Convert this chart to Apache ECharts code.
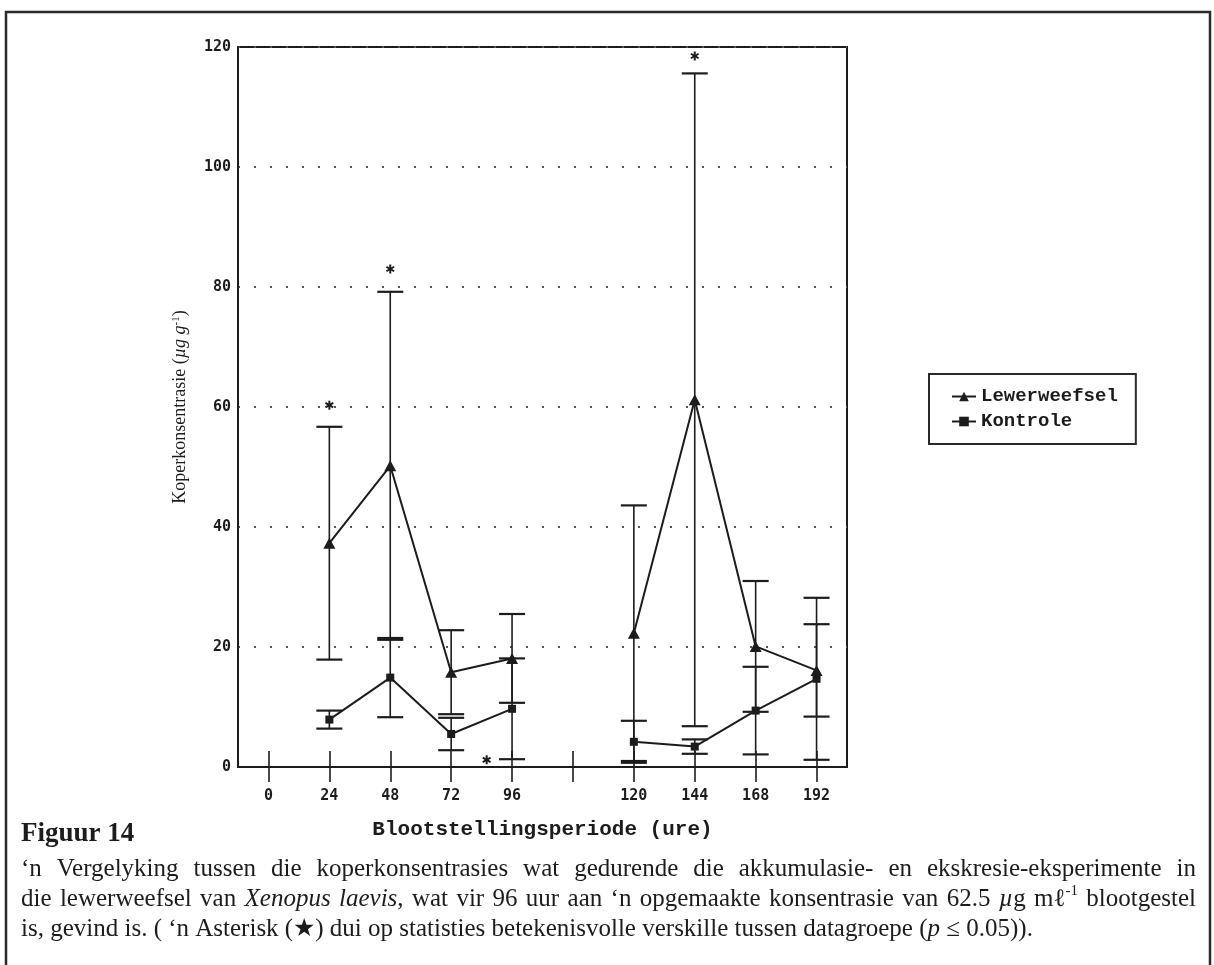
<!DOCTYPE html>
<html>
<head>
<meta charset="utf-8">
<script src="https://cdn.jsdelivr.net/npm/echarts@6/dist/echarts.min.js"></script>
<style>
  html, body { margin: 0; padding: 0; background: #ffffff; }
  #chart { width: 1214px; height: 965px; }
</style>
</head>
<body>
<div id="chart"></div>
<script>
// Exposure period categories (hours); the empty slot separates accumulation from excretion
const categories = ['0', '24', '48', '72', '96', '', '120', '144', '168', '192'];

// Copper concentration in liver tissue (µg/g): mean and error
const liverMean = [null, 37.3, 50.2, 15.8, 18.1, null, 22.3, 61.2, 20.1, 16.1];
const liverErr  = [null, 19.4, 29.0, 7.0, 7.4, null, 21.3, 54.4, 10.9, 7.7];

// Control group (µg/g): mean and error
const controlMean = [null, 7.9, 14.9, 5.5, 9.7, null, 4.2, 3.4, 9.4, 14.7];
const controlErr  = [null, 1.5, 6.6, 2.7, 8.4, null, 3.5, 1.2, 7.3, 13.5];

// Significance asterisks: hour position and height on the concentration axis
const sigHours  = [24, 48, 86, 144];
const sigLevels = [60.3, 83.0, 1.2, 118.5];

// Y axis ticks
const yMin = 0, yMax = 120, yStep = 20;

// Caption text (_italic_, ^superscript^)
const captionTitle = 'Figuur 14';
const captionLines = [
  '\u2018n Vergelyking tussen die koperkonsentrasies wat gedurende die akkumulasie- en ekskresie-eksperimente in',
  'die lewerweefsel van _Xenopus_ _laevis_, wat vir 96 uur aan \u2018n opgemaakte konsentrasie van 62.5 _\u00b5_g m\u2113^-1^ blootgestel',
  'is, gevind is. ( \u2018n Asterisk (\u2605) dui op statisties betekenisvolle verskille tussen datagroepe (_p_ \u2264 0.05)).'
];

const INK = '#1c1c1c';
const chart = echarts.init(document.getElementById('chart'), null, { renderer: 'canvas' });

// ---------- helpers ----------
function barData(mean, err) {
  const out = [];
  mean.forEach((m, i) => { if (m != null) out.push([i, m, err[i]]); });
  return out;
}

function errorBars(capHalf) {
  return function (params, api) {
    const i = api.value(0), m = api.value(1), e = api.value(2);
    const top = api.coord([i, m + e]);
    const bot = api.coord([i, m - e]);
    const capStyle = { stroke: INK, lineWidth: 2.2 };
    return {
      type: 'group',
      children: [
        { type: 'line', shape: { x1: top[0], y1: top[1], x2: bot[0], y2: bot[1] }, style: { stroke: INK, lineWidth: 1.6 } },
        { type: 'line', shape: { x1: top[0] - capHalf, y1: top[1], x2: top[0] + capHalf, y2: top[1] }, style: capStyle },
        { type: 'line', shape: { x1: bot[0] - capHalf, y1: bot[1], x2: bot[0] + capHalf, y2: bot[1] }, style: capStyle }
      ]
    };
  };
}

// position of an hour value along the category axis (gap slot after 96 h)
function hourPos(h) {
  const k = h / 24;
  return k <= 4 ? k : k + 1;
}

function renderAsterisk(params, api) {
  const pos = api.value(0), v = api.value(1);
  const i0 = Math.floor(pos), f = pos - i0;
  const p0 = api.coord([i0, v]);
  const p1 = api.coord([i0 + 1, v]);
  const cx = p0[0] + f * (p1[0] - p0[0]);
  const cy = p0[1];
  const r = 4.5;
  const children = [90, 30, 150].map(deg => {
    const a = deg * Math.PI / 180;
    return {
      type: 'line',
      shape: { x1: cx - r * Math.cos(a), y1: cy - r * Math.sin(a), x2: cx + r * Math.cos(a), y2: cy + r * Math.sin(a) },
      style: { stroke: INK, lineWidth: 2 }
    };
  });
  return { type: 'group', children };
}

// ---------- caption layout (justified lines) ----------
const CAP_X0 = 21, CAP_X1 = 1196;
const CAP_SIZE = 25;
const CAP_FAMILY = '"Liberation Serif", "DejaVu Serif", serif';
const measureCtx = document.createElement('canvas').getContext('2d');

function runFont(r, size) {
  const s = r.sup ? Math.round(size * 0.6) : size;
  return (r.italic ? 'italic ' : '') + s + 'px ' + CAP_FAMILY;
}
function measure(r, size) {
  measureCtx.font = runFont(r, size);
  return measureCtx.measureText(r.t).width;
}
function parseRuns(word) {
  return word.split(/(_[^_]+_|\^[^^]+\^)/).filter(s => s.length).map(s => {
    if (s[0] === '_') return { t: s.slice(1, -1), italic: true };
    if (s[0] === '^') return { t: s.slice(1, -1), sup: true };
    return { t: s };
  });
}
function layoutLine(line, y, justify) {
  const words = line.split(' ').map(parseRuns);
  const avail = CAP_X1 - CAP_X0;
  let size = CAP_SIZE, total, gap;
  for (;;) {
    total = words.reduce((s, runs) => s + runs.reduce((a, r) => a + measure(r, size), 0), 0);
    const space = measure({ t: ' ' }, size);
    if (!justify) { gap = space; break; }
    gap = (avail - total) / (words.length - 1);
    if (gap >= space * 0.7 || size <= 18) break;
    size -= 0.5;
  }
  const els = [];
  let x = CAP_X0;
  words.forEach(runs => {
    runs.forEach(r => {
      els.push({
        type: 'text', x: x, y: y + (r.sup ? -size * 0.33 : 0), silent: true,
        style: { text: r.t, font: runFont(r, size), fill: INK, verticalAlign: 'middle', align: 'left' }
      });
      x += measure(r, size);
    });
    x += gap;
  });
  return els;
}

const captionEls = [
  {
    type: 'text', x: CAP_X0, y: 834, silent: true,
    style: { text: captionTitle, font: 'bold 27px ' + CAP_FAMILY, fill: INK, verticalAlign: 'middle' }
  }
];
const lineY = [869, 899, 929];
captionLines.forEach((ln, k) => {
  captionEls.push(...layoutLine(ln, lineY[k], k < captionLines.length - 1));
});

// outer figure frame
const frameEl = {
  type: 'rect', silent: true,
  shape: { x: 6, y: 12, width: 1204, height: 1000 },
  style: { fill: 'none', stroke: '#2a2a2a', lineWidth: 2.5 }
};

// ---------- option ----------
const monoBold = { fontFamily: 'DejaVu Sans Mono', fontWeight: 'bold', fontSize: 15, color: INK };

const option = {
  backgroundColor: '#ffffff',
  animation: false,
  graphic: { elements: [frameEl].concat(captionEls) },
  grid: {
    left: 238, right: 367, top: 47, bottom: 198,
    show: true, borderColor: INK, borderWidth: 2, backgroundColor: 'transparent'
  },
  legend: {
    data: ['Lewerweefsel', 'Kontrole'],
    orient: 'vertical',
    left: 929, top: 374,
    borderColor: '#2a2a2a', borderWidth: 2,
    padding: [13, 18, 13, 22],
    itemGap: 6, itemWidth: 24, itemHeight: 12,
    textStyle: { fontFamily: 'Liberation Mono', fontWeight: 'bold', fontSize: 19, color: INK }
  },
  xAxis: [
    {
      type: 'category', data: categories, boundaryGap: true, position: 'bottom',
      name: 'Blootstellingsperiode (ure)', nameLocation: 'middle', nameGap: 52,
      nameTextStyle: { fontFamily: 'Liberation Mono', fontWeight: 'bold', fontSize: 21, color: INK },
      axisLine: { show: true, lineStyle: { color: INK, width: 2 } },
      axisTick: { show: true, alignWithLabel: true, interval: 0, length: 15, lineStyle: { color: INK, width: 1.6 } },
      axisLabel: Object.assign({ margin: 22, interval: 0 }, monoBold),
      splitLine: { show: false }
    },
    {
      type: 'category', data: categories, boundaryGap: true, position: 'bottom',
      axisLine: { show: false },
      axisTick: { show: true, inside: true, alignWithLabel: true, interval: 0, length: 16, lineStyle: { color: INK, width: 1.6 } },
      axisLabel: { show: false },
      splitLine: { show: false }
    }
  ],
  yAxis: {
    type: 'value', min: yMin, max: yMax, interval: yStep,
    name: 'Koperkonsentrasie ({i|\u00b5g g}{s|-1})',
    nameLocation: 'middle', nameGap: 49,
    nameTextStyle: {
      fontFamily: 'Liberation Serif', fontSize: 18, color: INK,
      rich: {
        i: { fontFamily: 'Liberation Serif', fontStyle: 'italic', fontSize: 18, color: INK },
        s: { fontFamily: 'Liberation Serif', fontSize: 11, color: INK, verticalAlign: 'top' }
      }
    },
    axisLine: { show: true, lineStyle: { color: INK, width: 2 } },
    axisTick: { show: false },
    axisLabel: Object.assign({ margin: 7 }, monoBold),
    splitLine: { show: true, lineStyle: { color: '#555555', width: 2, type: [2, 14] } }
  },
  series: [
    {
      name: 'liver-error', type: 'custom', xAxisIndex: 0, z: 2,
      renderItem: errorBars(13), data: barData(liverMean, liverErr),
      encode: { x: 0, y: 1 }, silent: true
    },
    {
      name: 'control-error', type: 'custom', xAxisIndex: 0, z: 2,
      renderItem: errorBars(13), data: barData(controlMean, controlErr),
      encode: { x: 0, y: 1 }, silent: true
    },
    {
      name: 'Lewerweefsel', type: 'line', xAxisIndex: 0, z: 3,
      data: liverMean, connectNulls: false,
      symbol: 'triangle', symbolSize: [12, 11],
      itemStyle: { color: INK },
      lineStyle: { color: INK, width: 2 }
    },
    {
      name: 'Kontrole', type: 'line', xAxisIndex: 0, z: 3,
      data: controlMean, connectNulls: false,
      symbol: 'rect', symbolSize: 8,
      itemStyle: { color: INK },
      lineStyle: { color: INK, width: 2 }
    },
    {
      name: 'significance', type: 'custom', xAxisIndex: 0, z: 4,
      renderItem: renderAsterisk,
      data: sigHours.map((h, k) => [hourPos(h), sigLevels[k]]),
      encode: { x: 0, y: 1 }, silent: true
    }
  ]
};

chart.setOption(option);
</script>
</body>
</html>
